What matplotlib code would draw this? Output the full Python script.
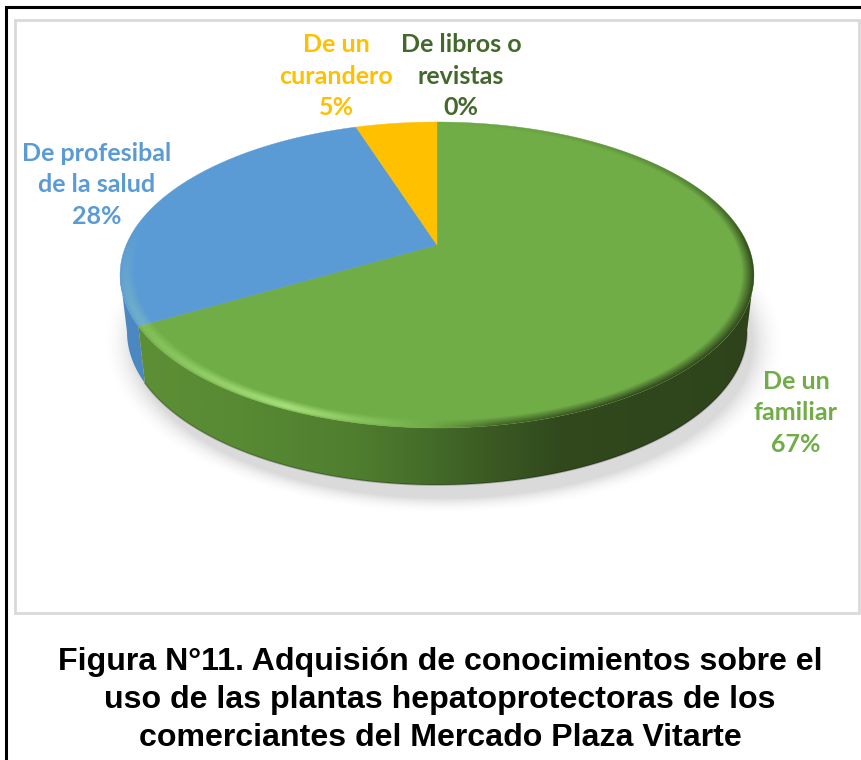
import numpy as np
import matplotlib
matplotlib.use('Agg')
import matplotlib.pyplot as plt
from matplotlib.colors import LinearSegmentedColormap, to_rgb
from matplotlib.patches import Polygon, Rectangle

categories = ['De un\nfamiliar', 'De profesibal\nde la salud', 'De un\ncurandero', 'De libros o\nrevistas']
shares = [66.7, 28.3, 5.0, 0.0]
slice_colors = ['#70ad47', '#5b9bd5', '#ffc000', '#43682b']
caption = ('Figura N°11. Adquisión de conocimientos sobre el\n'
           'uso de las plantas hepatoprotectoras de los\n'
           'comerciantes del Mercado Plaza Vitarte')

W, H = 862, 760
CX, CY = 437, 245      # punta del pastel
A, B, K = 310.8, 147.1, 0.196   # perspectiva del disco
DEPTH = 57
SIDE_SCALE = 0.978


def project(t):
    u, v = np.sin(t), np.cos(t)
    den = 1 + K * v
    return CX + A * u / den, CY - B * v / den


def side_points(x, y):
    return CX + (x - CX) * SIDE_SCALE, y + DEPTH


def gradient_patch(ax, pts, stops, x0, x1):
    patch = Polygon(pts, closed=True, fc='none', ec='none', transform=ax.transData)
    ax.add_patch(patch)
    cmap = LinearSegmentedColormap.from_list('g', stops)
    im = ax.imshow(np.linspace(0, 1, 512)[None, :], cmap=cmap, aspect='auto',
                   extent=(x0, x1, 600, 100), interpolation='bilinear', zorder=2)
    im.set_clip_path(patch)


plt.rcParams['font.family'] = ['Lato', 'DejaVu Sans']
fig = plt.figure(figsize=(W / 100, H / 100), dpi=100)
ax = fig.add_axes([0, 0, 1, 1])

# marcos
ax.add_patch(Rectangle((6.5, 6.5), W + 20, H + 20, fc='white', ec='black', lw=2.2, zorder=0))
ax.add_patch(Rectangle((15, 20), 844, 593, fc='white', ec='#d9d9d9', lw=2, zorder=0.5))

# sombra bajo el pastel
gx, gy = np.meshgrid(np.arange(60, 820), np.arange(200, 560))
d = np.hypot((gx - 443) / 322, (gy - 342) / 162)
shadow = np.zeros(gx.shape + (4,))
shadow[..., :3] = 0.55
shadow[..., 3] = 0.32 * np.clip((1.06 - d) / 0.10, 0, 1) ** 2
ax.imshow(shadow, extent=(60, 820, 560, 200), aspect='auto', zorder=1, interpolation='bilinear')

# angulos desde las 12 en sentido horario
edges = np.radians(np.concatenate([[0], np.cumsum(shares) / np.sum(shares) * 360]))

# solo la parte frontal del costado, entre los extremos izquierdo y derecho
t_right = np.arccos(-K)
t_left = 2 * np.pi - t_right

side_stops = [
    [(0, '#5f9038'), (0.2, '#578a33'), (0.37, '#507e2f'), (0.47, '#466f2a'),
     (0.57, '#3c5c24'), (0.69, '#31491d'), (1, '#2e431b')],
    [(0, '#4c88c2'), (1, '#4a84bd')],
]
for i in [1, 0]:
    t0 = max(edges[i], t_right)
    t1 = min(edges[i + 1], t_left)
    t = np.linspace(t0, t1, 300)
    x, y = project(t)
    sx, sy = side_points(x, y)
    pts = np.column_stack([np.r_[x, sx[::-1]], np.r_[y, sy[::-1]]])
    gradient_patch(ax, pts, side_stops[i], 115, 760)
    if i == 0:
        ax.plot(sx, sy, color='black', alpha=0.25, lw=1.2, zorder=2.5)

# cara superior
for i in range(len(shares)):
    if shares[i] == 0:
        continue
    t = np.linspace(edges[i], edges[i + 1], 300)
    x, y = project(t)
    pts = np.column_stack([np.r_[CX, x], np.r_[CY, y]])
    ax.add_patch(Polygon(pts, closed=True, fc=slice_colors[i], ec=slice_colors[i], lw=0.3, zorder=3))

# bisel del borde
tt = np.linspace(0, 2 * np.pi, 720)
top_x, top_y = project(tt)
top_clip = Polygon(np.column_stack([top_x, top_y]), closed=True, fc='none', ec='none',
                   transform=ax.transData)
ax.add_patch(top_clip)
gx, gy = np.meshgrid(np.arange(110, 765, 0.5), np.arange(115, 440, 0.5))
X, Yu = gx - CX, CY - gy
v = Yu / (B - K * Yu)
u = X * (1 + K * v) / A
r = np.hypot(u, v)
light = np.interp(X, [-317, -290, -150, -60, -10, 60, 200, 317], [0.2, 0.35, 1.0, 0.35, 0, -0.7, -1, -1])
bright = np.clip(light, 0, 1) * np.clip((0.1 - v) / 0.4, 0, 1)
dark = np.clip(-light, 0, 1) * np.interp(v, [-1, 0, 0.5, 1], [1, 0.9, 0.4, 0.1])
bright *= np.clip((r - 0.955) / 0.025, 0, 1) * np.clip((1.003 - r) / 0.012, 0, 1)
dark *= np.clip((r - 0.962) / 0.036, 0, 1)
bevel = np.zeros(gx.shape + (4,))
bevel[..., :3] = np.where(bright[..., None] > 0, np.array(to_rgb('#c8ff9a')), np.array(to_rgb('#2e431b')))
bevel[..., 3] = bright * 0.6 + dark
im = ax.imshow(bevel, extent=(110, 765, 440, 115), aspect='auto', zorder=4, interpolation='bilinear')
im.set_clip_path(top_clip)

# etiquetas
label_xy = [(796, 413), (97, 185), (336, 76), (461, 76)]
for i in range(len(shares)):
    ax.text(label_xy[i][0], label_xy[i][1], f'{categories[i]}\n{round(shares[i])}%',
            color=slice_colors[i], fontsize=18, fontweight='bold', ha='center', va='center',
            linespacing=1.44, zorder=5)

ax.text(440, 700, caption, family=['Liberation Sans'], fontweight='bold', fontsize=23.1,
        ha='center', va='center', linespacing=1.33, color='black', zorder=5)

ax.set_xlim(0, W)
ax.set_ylim(H, 0)
ax.axis('off')
fig.savefig('out.png', dpi=100)
